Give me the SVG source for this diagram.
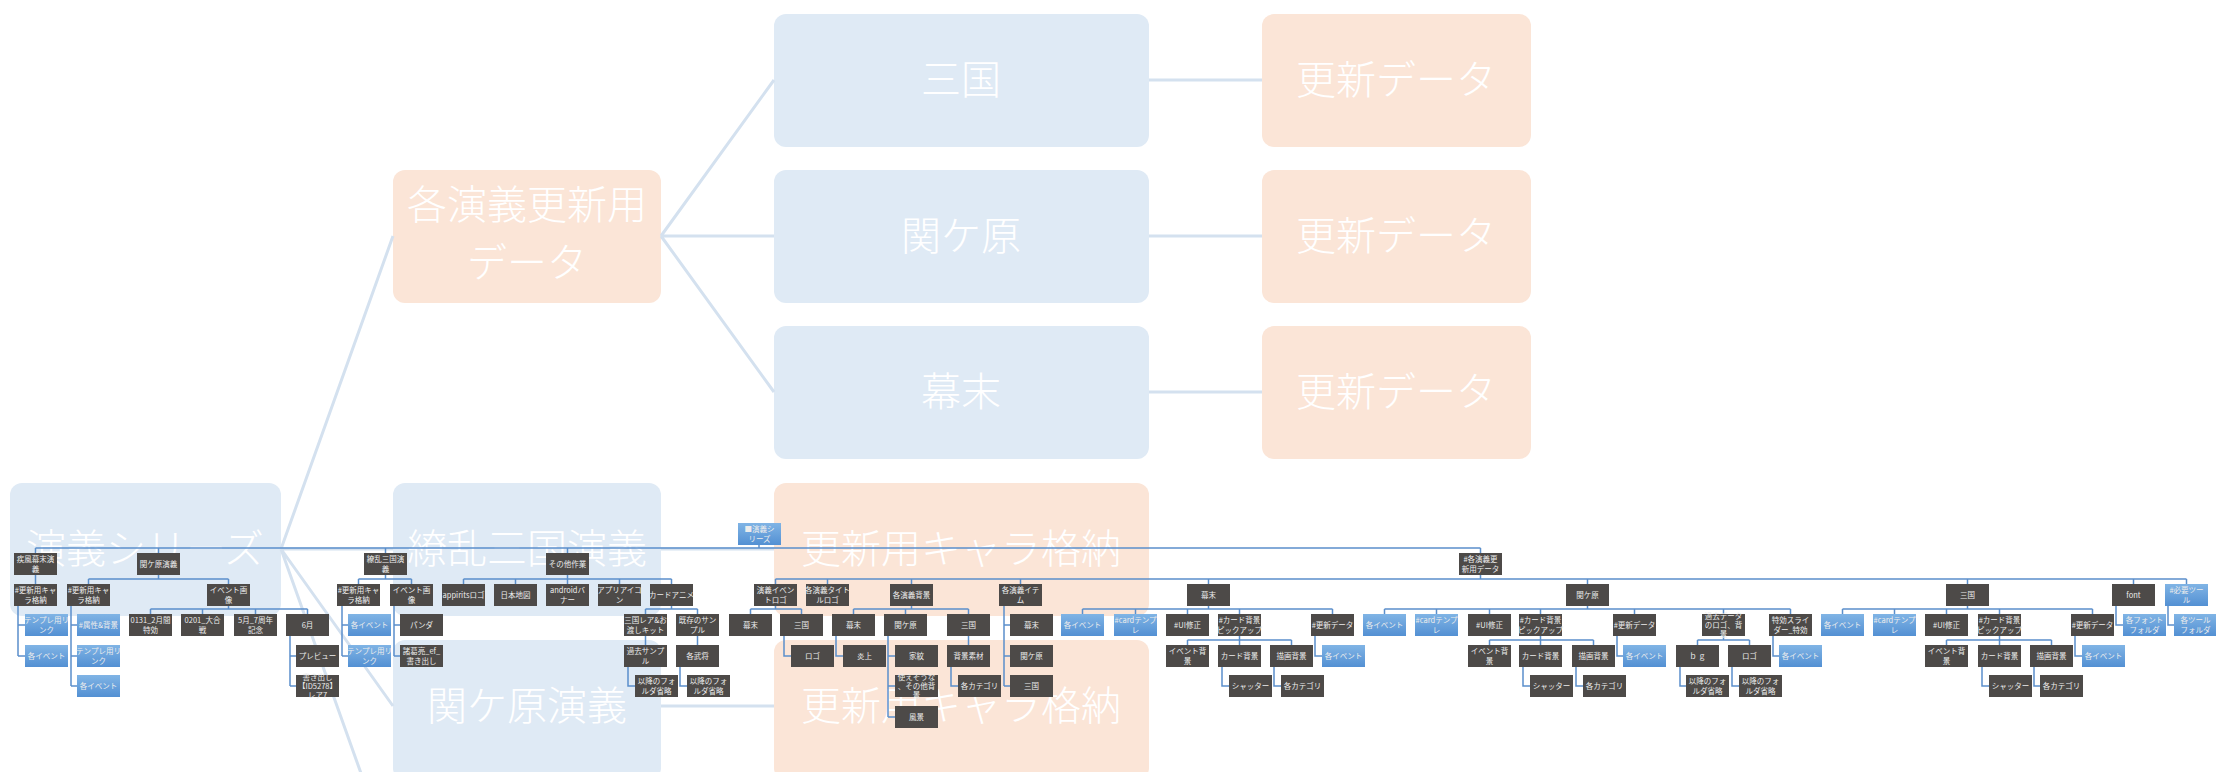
<svg xmlns="http://www.w3.org/2000/svg" width="2216" height="772" viewBox="0 0 2216 772">
<defs>
<linearGradient id="bg" x1="0" y1="0" x2="0" y2="1"><stop offset="0" stop-color="#80b4e5"/><stop offset="1" stop-color="#5390d3"/></linearGradient>
<style>
.L{fill:#dfeaf5}
.P{fill:#fbe5d7}
.bt{font-family:"Noto Sans CJK JP","Noto Sans",sans-serif;font-size:40px;font-weight:300;fill:#ffffff;text-anchor:middle}
.d{fill:#4d4a48}
.b{fill:url(#bg)}
.t{font-family:"Noto Sans CJK JP","Noto Sans",sans-serif;font-size:7.5px;fill:#ececec;text-anchor:middle}
.big{stroke:#d4e1ef;stroke-width:3;fill:none}
.tr{stroke:#5b8fcb;stroke-width:1.5;fill:none}
</style>
</defs>
<rect width="2216" height="772" fill="#ffffff"/>
<g id="big-nodes">
<g id="B_series"><rect class="L" x="10" y="483" width="271" height="133" rx="12"/><text class="bt" x="145" y="563">演義シリーズ</text></g>
<g id="B_kakuupd"><rect class="P" x="393" y="170" width="268" height="133" rx="12"/><text class="bt" x="527" y="219">各演義更新用</text><text class="bt" x="527" y="277">データ</text></g>
<g id="B_sangoku"><rect class="L" x="774" y="14" width="375" height="133" rx="12"/><text class="bt" x="961" y="94">三国</text></g>
<g id="B_sekigahara"><rect class="L" x="774" y="170" width="375" height="133" rx="12"/><text class="bt" x="961" y="250">関ケ原</text></g>
<g id="B_bakumatsu"><rect class="L" x="774" y="326" width="375" height="133" rx="12"/><text class="bt" x="961" y="406">幕末</text></g>
<g id="B_upd1"><rect class="P" x="1262" y="14" width="269" height="133" rx="12"/><text class="bt" x="1396" y="94">更新データ</text></g>
<g id="B_upd2"><rect class="P" x="1262" y="170" width="269" height="133" rx="12"/><text class="bt" x="1396" y="250">更新データ</text></g>
<g id="B_upd3"><rect class="P" x="1262" y="326" width="269" height="133" rx="12"/><text class="bt" x="1396" y="406">更新データ</text></g>
<g id="B_ryoran"><rect class="L" x="393" y="483" width="268" height="133" rx="12"/><text class="bt" x="527" y="563">繚乱三国演義</text></g>
<g id="B_chara1"><rect class="P" x="774" y="483" width="375" height="133" rx="12"/><text class="bt" x="961" y="563">更新用キャラ格納</text></g>
<g id="B_seki"><rect class="L" x="393" y="640" width="268" height="140" rx="12"/><text class="bt" x="527" y="720">関ケ原演義</text></g>
<g id="B_chara2"><rect class="P" x="774" y="640" width="375" height="140" rx="12"/><text class="bt" x="961" y="720">更新用キャラ格納</text></g>
</g>
<g id="connectors">
<path class="big" d="M281 549 L393 236 M281 549 L393 549 M281 549 L393 706 M281 549 L393 863 M661 236 L774 80 M661 236 L774 236 M661 236 L774 392 M1149 80 H1262 M1149 236 H1262 M1149 392 H1262 M661 549 H774 M661 706 H774"/>
<path class="tr" d="M759 545 V548 M35.5 548 H1480.5 M35.5 548 V553 M158.5 548 V553 M385.5 548 V553 M567.5 548 V553 M1480.5 548 V553
M35.5 575 V584 M18 606 V656 M18 625 H25 M18 656 H25
M158.5 575 V579 M88.5 579 H228.5 M88.5 579 V584 M228.5 579 V584
M71 606 V686 M71 625 H77 M71 656 H77 M71 686 H77
M228.5 606 V609 M150.5 609 H307.5 M150.5 609 V614 M202.5 609 V614 M255.5 609 V614 M307.5 609 V614
M290 636 V686 M290 656 H296 M290 686 H296
M385.5 575 V579 M358.5 579 H411.5 M358.5 579 V584 M411.5 579 V584
M342 606 V656 M342 625 H348 M342 656 H348
M394 606 V656 M394 625 H400 M394 656 H400
M567.5 575 V579 M463.5 579 H671.5 M463.5 579 V584 M515.5 579 V584 M567.5 579 V584 M619.5 579 V584 M671.5 579 V584
M671.5 606 V609 M645.5 609 H697.5 M645.5 609 V614 M697.5 609 V614 M645.5 636 V645 M697.5 636 V645
M628 667 V686 H635 M680 667 V686 H687
M1480.5 575 V579 M775.5 579 H2186.5 M775.5 579 V584 M827.5 579 V584 M911.5 579 V584 M1020.5 579 V584 M1208.5 579 V584 M1587.5 579 V584 M1967.5 579 V584 M2133.5 579 V584 M2186.5 579 V584
M775.5 606 V609 M750.5 609 H801.5 M750.5 609 V614 M801.5 609 V614 M784 636 V656 H791
M911.5 606 V609 M853.5 609 H968.5 M853.5 609 V614 M905.5 609 V614 M968.5 609 V614
M836 636 V656 H843 M888 636 V717 M888 656 H895 M888 686 H895 M888 717 H895 M968.5 636 V645 M951 667 V686 H958
M1004 606 V686 M1004 625 H1010 M1004 656 H1010 M1004 686 H1010
M1208.5 606 V609 M1082.5 609 H1332.5 M1082.5 609 V614 M1135.5 609 V614 M1187.5 609 V614 M1239.5 609 V614 M1332.5 609 V614
M1239.5 636 V640 M1187.5 640 H1291.5 M1187.5 640 V645 M1239.5 640 V645 M1291.5 640 V645
M1222 667 V686 H1229 M1274 667 V686 H1281 M1315 636 V656 H1322
M1587.5 606 V609 M1384.5 609 H1790.5 M1384.5 609 V614 M1436.5 609 V614 M1489.5 609 V614 M1540.5 609 V614 M1634.5 609 V614 M1723.5 609 V614 M1790.5 609 V614
M1540.5 636 V640 M1489.5 640 H1593.5 M1489.5 640 V645 M1540.5 640 V645 M1593.5 640 V645
M1523 667 V686 H1530 M1576 667 V686 H1583 M1617 636 V656 H1623
M1723.5 636 V640 M1697.5 640 H1749.5 M1697.5 640 V645 M1749.5 640 V645
M1680 667 V686 H1686 M1732 667 V686 H1739 M1773 636 V656 H1779
M1967.5 606 V609 M1842.5 609 H2092.5 M1842.5 609 V614 M1894.5 609 V614 M1946.5 609 V614 M1999.5 609 V614 M2092.5 609 V614
M1999.5 636 V640 M1946.5 640 H2051.5 M1946.5 640 V645 M1999.5 640 V645 M2051.5 640 V645
M1982 667 V686 H1989 M2034 667 V686 H2040 M2075 636 V656 H2082
M2116 606 V625 H2123 M2168 606 V625 H2174"/>
</g>
<g id="tree-nodes">
<g id="root"><rect class="b" x="738" y="523" width="43" height="22"/><text class="t" x="759.5" y="532">■演義シ</text><text class="t" x="759.5" y="542">リーズ</text></g>
<g id="n_shippu"><rect class="d" x="14" y="553" width="43" height="22"/><text class="t" x="35.5" y="562">疾風幕末演</text><text class="t" x="35.5" y="572">義</text></g>
<g id="n_seki"><rect class="d" x="137" y="553" width="43" height="22"/><text class="t" x="158.5" y="567">関ケ原演義</text></g>
<g id="n_ryoran"><rect class="d" x="364" y="553" width="43" height="22"/><text class="t" x="385.5" y="562">繚乱三国演</text><text class="t" x="385.5" y="572">義</text></g>
<g id="n_sonota"><rect class="d" x="546" y="553" width="43" height="22"/><text class="t" x="567.5" y="567">その他作業</text></g>
<g id="n_kakuupd"><rect class="d" x="1459" y="553" width="43" height="22"/><text class="t" x="1480.5" y="562">#各演義更</text><text class="t" x="1480.5" y="572">新用データ</text></g>

<g id="n_a1"><rect class="d" x="14" y="584" width="43" height="22"/><text class="t" x="35.5" y="593">#更新用キャ</text><text class="t" x="35.5" y="603">ラ格納</text></g>
<g id="n_b1"><rect class="d" x="67" y="584" width="43" height="22"/><text class="t" x="88.5" y="593">#更新用キャ</text><text class="t" x="88.5" y="603">ラ格納</text></g>
<g id="n_b2"><rect class="d" x="207" y="584" width="43" height="22"/><text class="t" x="228.5" y="593">イベント画</text><text class="t" x="228.5" y="603">像</text></g>
<g id="n_c1"><rect class="d" x="337" y="584" width="43" height="22"/><text class="t" x="358.5" y="593">#更新用キャ</text><text class="t" x="358.5" y="603">ラ格納</text></g>
<g id="n_c2"><rect class="d" x="390" y="584" width="43" height="22"/><text class="t" x="411.5" y="593">イベント画</text><text class="t" x="411.5" y="603">像</text></g>
<g id="n_d1"><rect class="d" x="442" y="584" width="43" height="22"/><text class="t" x="463.5" y="598">appiritsロゴ</text></g>
<g id="n_d2"><rect class="d" x="494" y="584" width="43" height="22"/><text class="t" x="515.5" y="598">日本地図</text></g>
<g id="n_d3"><rect class="d" x="546" y="584" width="43" height="22"/><text class="t" x="567.5" y="593">androidバ</text><text class="t" x="567.5" y="603">ナー</text></g>
<g id="n_d4"><rect class="d" x="598" y="584" width="43" height="22"/><text class="t" x="619.5" y="593">アプリアイコ</text><text class="t" x="619.5" y="603">ン</text></g>
<g id="n_d5"><rect class="d" x="650" y="584" width="43" height="22"/><text class="t" x="671.5" y="598">カードアニメ</text></g>
<g id="n_e1"><rect class="d" x="754" y="584" width="43" height="22"/><text class="t" x="775.5" y="593">演義イベン</text><text class="t" x="775.5" y="603">トロゴ</text></g>
<g id="n_e2"><rect class="d" x="806" y="584" width="43" height="22"/><text class="t" x="827.5" y="593">各演義タイト</text><text class="t" x="827.5" y="603">ルロゴ</text></g>
<g id="n_e3"><rect class="d" x="890" y="584" width="43" height="22"/><text class="t" x="911.5" y="598">各演義背景</text></g>
<g id="n_e4"><rect class="d" x="999" y="584" width="43" height="22"/><text class="t" x="1020.5" y="593">各演義イテ</text><text class="t" x="1020.5" y="603">ム</text></g>
<g id="n_e5"><rect class="d" x="1187" y="584" width="43" height="22"/><text class="t" x="1208.5" y="598">幕末</text></g>
<g id="n_e6"><rect class="d" x="1566" y="584" width="43" height="22"/><text class="t" x="1587.5" y="598">関ケ原</text></g>
<g id="n_e7"><rect class="d" x="1946" y="584" width="43" height="22"/><text class="t" x="1967.5" y="598">三国</text></g>
<g id="n_e8"><rect class="d" x="2112" y="584" width="43" height="22"/><text class="t" x="2133.5" y="598">font</text></g>
<g id="n_e9"><rect class="b" x="2165" y="584" width="43" height="22"/><text class="t" x="2186.5" y="593">#必要ツー</text><text class="t" x="2186.5" y="603">ル</text></g>

<g id="n_a1_1"><rect class="b" x="25" y="614" width="43" height="22"/><text class="t" x="46.5" y="623">テンプレ用リ</text><text class="t" x="46.5" y="633">ンク</text></g>
<g id="n_b1_1"><rect class="b" x="77" y="614" width="43" height="22"/><text class="t" x="98.5" y="628">#属性&amp;背景</text></g>
<g id="n_b2_1"><rect class="d" x="129" y="614" width="43" height="22"/><text class="t" x="150.5" y="623">0131_2月間</text><text class="t" x="150.5" y="633">特効</text></g>
<g id="n_b2_2"><rect class="d" x="181" y="614" width="43" height="22"/><text class="t" x="202.5" y="623">0201_大合</text><text class="t" x="202.5" y="633">戦</text></g>
<g id="n_b2_3"><rect class="d" x="234" y="614" width="43" height="22"/><text class="t" x="255.5" y="623">5月_7周年</text><text class="t" x="255.5" y="633">記念</text></g>
<g id="n_b2_4"><rect class="d" x="286" y="614" width="43" height="22"/><text class="t" x="307.5" y="628">6月</text></g>
<g id="n_c1_1"><rect class="b" x="348" y="614" width="43" height="22"/><text class="t" x="369.5" y="628">各イベント</text></g>
<g id="n_c2_1"><rect class="d" x="400" y="614" width="43" height="22"/><text class="t" x="421.5" y="628">パンダ</text></g>
<g id="n_d5_1"><rect class="d" x="624" y="614" width="43" height="22"/><text class="t" x="645.5" y="623">三国レア&amp;お</text><text class="t" x="645.5" y="633">渡しキット</text></g>
<g id="n_d5_2"><rect class="d" x="676" y="614" width="43" height="22"/><text class="t" x="697.5" y="623">既存のサン</text><text class="t" x="697.5" y="633">プル</text></g>
<g id="n_e1_1"><rect class="d" x="729" y="614" width="43" height="22"/><text class="t" x="750.5" y="628">幕末</text></g>
<g id="n_e1_2"><rect class="d" x="780" y="614" width="43" height="22"/><text class="t" x="801.5" y="628">三国</text></g>
<g id="n_e3_1"><rect class="d" x="832" y="614" width="43" height="22"/><text class="t" x="853.5" y="628">幕末</text></g>
<g id="n_e3_2"><rect class="d" x="884" y="614" width="43" height="22"/><text class="t" x="905.5" y="628">関ケ原</text></g>
<g id="n_e3_3"><rect class="d" x="947" y="614" width="43" height="22"/><text class="t" x="968.5" y="628">三国</text></g>
<g id="n_e4_1"><rect class="d" x="1010" y="614" width="43" height="22"/><text class="t" x="1031.5" y="628">幕末</text></g>
<g id="n_e5_1"><rect class="b" x="1061" y="614" width="43" height="22"/><text class="t" x="1082.5" y="628">各イベント</text></g>
<g id="n_e5_2"><rect class="b" x="1114" y="614" width="43" height="22"/><text class="t" x="1135.5" y="623">#cardテンプ</text><text class="t" x="1135.5" y="633">レ</text></g>
<g id="n_e5_3"><rect class="d" x="1166" y="614" width="43" height="22"/><text class="t" x="1187.5" y="628">#UI修正</text></g>
<g id="n_e5_4"><rect class="d" x="1218" y="614" width="43" height="22"/><text class="t" x="1239.5" y="623">#カード背景</text><text class="t" x="1239.5" y="633">ピックアップ</text></g>
<g id="n_e5_5"><rect class="d" x="1311" y="614" width="43" height="22"/><text class="t" x="1332.5" y="628">#更新データ</text></g>
<g id="n_e6_1"><rect class="b" x="1363" y="614" width="43" height="22"/><text class="t" x="1384.5" y="628">各イベント</text></g>
<g id="n_e6_2"><rect class="b" x="1415" y="614" width="43" height="22"/><text class="t" x="1436.5" y="623">#cardテンプ</text><text class="t" x="1436.5" y="633">レ</text></g>
<g id="n_e6_3"><rect class="d" x="1468" y="614" width="43" height="22"/><text class="t" x="1489.5" y="628">#UI修正</text></g>
<g id="n_e6_4"><rect class="d" x="1519" y="614" width="43" height="22"/><text class="t" x="1540.5" y="623">#カード背景</text><text class="t" x="1540.5" y="633">ピックアップ</text></g>
<g id="n_e6_5"><rect class="d" x="1613" y="614" width="43" height="22"/><text class="t" x="1634.5" y="628">#更新データ</text></g>
<g id="n_e6_6"><rect class="d" x="1702" y="614" width="43" height="22"/><text class="t" x="1723.5" y="619">過去データ</text><text class="t" x="1723.5" y="628">のロゴ、背</text><text class="t" x="1723.5" y="637">景</text></g>
<g id="n_e6_7"><rect class="d" x="1769" y="614" width="43" height="22"/><text class="t" x="1790.5" y="623">特効スライ</text><text class="t" x="1790.5" y="633">ダー_特効</text></g>
<g id="n_e7_1"><rect class="b" x="1821" y="614" width="43" height="22"/><text class="t" x="1842.5" y="628">各イベント</text></g>
<g id="n_e7_2"><rect class="b" x="1873" y="614" width="43" height="22"/><text class="t" x="1894.5" y="623">#cardテンプ</text><text class="t" x="1894.5" y="633">レ</text></g>
<g id="n_e7_3"><rect class="d" x="1925" y="614" width="43" height="22"/><text class="t" x="1946.5" y="628">#UI修正</text></g>
<g id="n_e7_4"><rect class="d" x="1978" y="614" width="43" height="22"/><text class="t" x="1999.5" y="623">#カード背景</text><text class="t" x="1999.5" y="633">ピックアップ</text></g>
<g id="n_e7_5"><rect class="d" x="2071" y="614" width="43" height="22"/><text class="t" x="2092.5" y="628">#更新データ</text></g>
<g id="n_e8_1"><rect class="b" x="2123" y="614" width="43" height="22"/><text class="t" x="2144.5" y="623">各フォント</text><text class="t" x="2144.5" y="633">フォルダ</text></g>
<g id="n_e9_1"><rect class="b" x="2174" y="614" width="43" height="22"/><text class="t" x="2195.5" y="623">各ツール</text><text class="t" x="2195.5" y="633">フォルダ</text></g>

<g id="n_a1_2"><rect class="b" x="25" y="645" width="43" height="22"/><text class="t" x="46.5" y="659">各イベント</text></g>
<g id="n_b1_2"><rect class="b" x="77" y="645" width="43" height="22"/><text class="t" x="98.5" y="654">テンプレ用リ</text><text class="t" x="98.5" y="664">ンク</text></g>
<g id="n_b2_4_1"><rect class="d" x="296" y="645" width="43" height="22"/><text class="t" x="317.5" y="659">プレビュー</text></g>
<g id="n_c1_2"><rect class="b" x="348" y="645" width="43" height="22"/><text class="t" x="369.5" y="654">テンプレ用リ</text><text class="t" x="369.5" y="664">ンク</text></g>
<g id="n_c2_2"><rect class="d" x="400" y="645" width="43" height="22"/><text class="t" x="421.5" y="654">諸葛亮_ef_</text><text class="t" x="421.5" y="664">書き出し</text></g>
<g id="n_d5_1_1"><rect class="d" x="624" y="645" width="43" height="22"/><text class="t" x="645.5" y="654">過去サンプ</text><text class="t" x="645.5" y="664">ル</text></g>
<g id="n_d5_2_1"><rect class="d" x="676" y="645" width="43" height="22"/><text class="t" x="697.5" y="659">各武将</text></g>
<g id="n_e1_2_1"><rect class="d" x="791" y="645" width="43" height="22"/><text class="t" x="812.5" y="659">ロゴ</text></g>
<g id="n_e3_1_1"><rect class="d" x="843" y="645" width="43" height="22"/><text class="t" x="864.5" y="659">炎上</text></g>
<g id="n_e3_2_1"><rect class="d" x="895" y="645" width="43" height="22"/><text class="t" x="916.5" y="659">家紋</text></g>
<g id="n_e3_3_1"><rect class="d" x="947" y="645" width="43" height="22"/><text class="t" x="968.5" y="659">背景素材</text></g>
<g id="n_e4_2"><rect class="d" x="1010" y="645" width="43" height="22"/><text class="t" x="1031.5" y="659">関ケ原</text></g>
<g id="n_e5_4_1"><rect class="d" x="1166" y="645" width="43" height="22"/><text class="t" x="1187.5" y="654">イベント背</text><text class="t" x="1187.5" y="664">景</text></g>
<g id="n_e5_4_2"><rect class="d" x="1218" y="645" width="43" height="22"/><text class="t" x="1239.5" y="659">カード背景</text></g>
<g id="n_e5_4_3"><rect class="d" x="1270" y="645" width="43" height="22"/><text class="t" x="1291.5" y="659">描画背景</text></g>
<g id="n_e5_5_1"><rect class="b" x="1322" y="645" width="43" height="22"/><text class="t" x="1343.5" y="659">各イベント</text></g>
<g id="n_e6_4_1"><rect class="d" x="1468" y="645" width="43" height="22"/><text class="t" x="1489.5" y="654">イベント背</text><text class="t" x="1489.5" y="664">景</text></g>
<g id="n_e6_4_2"><rect class="d" x="1519" y="645" width="43" height="22"/><text class="t" x="1540.5" y="659">カード背景</text></g>
<g id="n_e6_4_3"><rect class="d" x="1572" y="645" width="43" height="22"/><text class="t" x="1593.5" y="659">描画背景</text></g>
<g id="n_e6_5_1"><rect class="b" x="1623" y="645" width="43" height="22"/><text class="t" x="1644.5" y="659">各イベント</text></g>
<g id="n_e6_6_1"><rect class="d" x="1676" y="645" width="43" height="22"/><text class="t" x="1697.5" y="659">ｂ ｇ</text></g>
<g id="n_e6_6_2"><rect class="d" x="1728" y="645" width="43" height="22"/><text class="t" x="1749.5" y="659">ロゴ</text></g>
<g id="n_e6_7_1"><rect class="b" x="1779" y="645" width="43" height="22"/><text class="t" x="1800.5" y="659">各イベント</text></g>
<g id="n_e7_4_1"><rect class="d" x="1925" y="645" width="43" height="22"/><text class="t" x="1946.5" y="654">イベント背</text><text class="t" x="1946.5" y="664">景</text></g>
<g id="n_e7_4_2"><rect class="d" x="1978" y="645" width="43" height="22"/><text class="t" x="1999.5" y="659">カード背景</text></g>
<g id="n_e7_4_3"><rect class="d" x="2030" y="645" width="43" height="22"/><text class="t" x="2051.5" y="659">描画背景</text></g>
<g id="n_e7_5_1"><rect class="b" x="2082" y="645" width="43" height="22"/><text class="t" x="2103.5" y="659">各イベント</text></g>

<g id="n_b1_3"><rect class="b" x="77" y="675" width="43" height="22"/><text class="t" x="98.5" y="689">各イベント</text></g>
<g id="n_b2_4_2"><rect class="d" x="296" y="675" width="43" height="22"/><text class="t" x="317.5" y="680">書き出し</text><text class="t" x="317.5" y="689">【ID5278】</text><text class="t" x="317.5" y="698">レア7</text></g>
<g id="n_d5_1_2"><rect class="d" x="635" y="675" width="43" height="22"/><text class="t" x="656.5" y="684">以降のフォ</text><text class="t" x="656.5" y="694">ルダ省略</text></g>
<g id="n_d5_2_2"><rect class="d" x="687" y="675" width="43" height="22"/><text class="t" x="708.5" y="684">以降のフォ</text><text class="t" x="708.5" y="694">ルダ省略</text></g>
<g id="n_e3_2_2"><rect class="d" x="895" y="675" width="43" height="22"/><text class="t" x="916.5" y="680">使えそうな</text><text class="t" x="916.5" y="689">、その他背</text><text class="t" x="916.5" y="698">景</text></g>
<g id="n_e3_3_2"><rect class="d" x="958" y="675" width="43" height="22"/><text class="t" x="979.5" y="689">各カテゴリ</text></g>
<g id="n_e4_3"><rect class="d" x="1010" y="675" width="43" height="22"/><text class="t" x="1031.5" y="689">三国</text></g>
<g id="n_e5_4_2_1"><rect class="d" x="1229" y="675" width="43" height="22"/><text class="t" x="1250.5" y="689">シャッター</text></g>
<g id="n_e5_4_3_1"><rect class="d" x="1281" y="675" width="43" height="22"/><text class="t" x="1302.5" y="689">各カテゴリ</text></g>
<g id="n_e6_4_2_1"><rect class="d" x="1530" y="675" width="43" height="22"/><text class="t" x="1551.5" y="689">シャッター</text></g>
<g id="n_e6_4_3_1"><rect class="d" x="1583" y="675" width="43" height="22"/><text class="t" x="1604.5" y="689">各カテゴリ</text></g>
<g id="n_e6_6_1_1"><rect class="d" x="1686" y="675" width="43" height="22"/><text class="t" x="1707.5" y="684">以降のフォ</text><text class="t" x="1707.5" y="694">ルダ省略</text></g>
<g id="n_e6_6_2_1"><rect class="d" x="1739" y="675" width="43" height="22"/><text class="t" x="1760.5" y="684">以降のフォ</text><text class="t" x="1760.5" y="694">ルダ省略</text></g>
<g id="n_e7_4_2_1"><rect class="d" x="1989" y="675" width="43" height="22"/><text class="t" x="2010.5" y="689">シャッター</text></g>
<g id="n_e7_4_3_1"><rect class="d" x="2040" y="675" width="43" height="22"/><text class="t" x="2061.5" y="689">各カテゴリ</text></g>

<g id="n_e3_2_3"><rect class="d" x="895" y="706" width="43" height="22"/><text class="t" x="916.5" y="720">風景</text></g>
</g>
</svg>
